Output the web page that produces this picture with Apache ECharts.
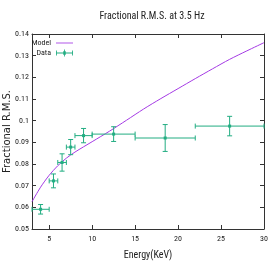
<!DOCTYPE html>
<html><head><meta charset="utf-8">
<script src="https://cdn.jsdelivr.net/npm/echarts@6/dist/echarts.min.js"></script>
<style>html,body{margin:0;padding:0;background:#fff}#c{width:274px;height:262px}</style>
</head><body><div id="c"></div>
<script>
// Model curve (energy keV, fractional rms)
var modelE   = [3, 4, 5, 6, 7, 8, 10, 12, 14, 16, 18, 20, 22, 24, 26, 28, 30];
var modelRms = [0.0626, 0.0693, 0.0748, 0.0792, 0.0827, 0.0855, 0.0903, 0.0951, 0.1002, 0.1054, 0.1102, 0.1148, 0.1194, 0.1239, 0.1283, 0.1322, 0.136];
// Data points with error bars
var energy = [4, 5.5, 6.5, 7.5, 9, 12.5, 18.5, 26];
var eLo    = [3, 5, 6, 7, 8, 10, 15, 22];
var eHi    = [5, 6, 7, 8, 10, 15, 22, 30];
var rms    = [0.0591, 0.0722, 0.0807, 0.0878, 0.0931, 0.0938, 0.0920, 0.0975];
var rmsErr = [0.0022, 0.0032, 0.0040, 0.0035, 0.0033, 0.0034, 0.0062, 0.0045];
var xTicks = [5, 10, 15, 20, 25, 30];
var yTicks = [0.05, 0.06, 0.07, 0.08, 0.09, 0.1, 0.11, 0.12, 0.13, 0.14];

var FONT = '"Roboto Condensed","DejaVu Sans Condensed",sans-serif';
var PURPLE = '#a43ae4';
var GREEN = '#22ad82';

var modelData = modelE.map(function(e,i){return [e, modelRms[i]];});
var pts = energy.map(function(e,i){return [e, rms[i], eLo[i], eHi[i], rms[i]-rmsErr[i], rms[i]+rmsErr[i]];});

function renderErr(params, api){
  var c = api.coord([api.value(0), api.value(1)]);
  var l = api.coord([api.value(2), api.value(1)]);
  var r = api.coord([api.value(3), api.value(1)]);
  var b = api.coord([api.value(0), api.value(4)]);
  var t = api.coord([api.value(0), api.value(5)]);
  var st = {stroke: GREEN, lineWidth: 1, fill: null};
  var cap = 2.5;
  return {type:'group', children:[
    {type:'line', shape:{x1:l[0], y1:l[1], x2:r[0], y2:r[1]}, style:st},
    {type:'line', shape:{x1:l[0], y1:l[1]-cap, x2:l[0], y2:l[1]+cap}, style:st},
    {type:'line', shape:{x1:r[0], y1:r[1]-cap, x2:r[0], y2:r[1]+cap}, style:st},
    {type:'line', shape:{x1:b[0], y1:b[1], x2:t[0], y2:t[1]}, style:st},
    {type:'line', shape:{x1:b[0]-cap, y1:b[1], x2:b[0]+cap, y2:b[1]}, style:st},
    {type:'line', shape:{x1:t[0]-cap, y1:t[1], x2:t[0]+cap, y2:t[1]}, style:st},
    {type:'rect', shape:{x:c[0]-1.5, y:c[1]-1.5, width:3, height:3}, style:{fill:GREEN}}
  ]};
}

var axisCommon = {
  axisLine:{show:true, lineStyle:{color:'#333', width:1}},
  splitLine:{show:false}
};

var chart = echarts.init(document.getElementById('c'), null, {renderer:'canvas'});
chart.setOption({
  animation:false,
  title:{text:'Fractional R.M.S. at 3.5 Hz', left:147, textAlign:'center', top:6,
    textStyle:{fontFamily:FONT, fontSize:10, fontWeight:'normal', color:'#222'}},
  grid:{left:32, right:10, top:34, bottom:33, containLabel:false, outerBoundsMode:'none'},
  legend:[
    {data:[{name:'Model', icon:'path://M0,4.5h20v1h-20z', itemStyle:{color:PURPLE}}],
     orient:'vertical', align:'right', right:201, top:39, itemWidth:17, itemHeight:8,
     padding:0, textStyle:{fontFamily:FONT, fontSize:8, color:'#222'}},
    {data:[{name:'Data', icon:'path://M0,4.5h20v1h-20zM0,2h1v6h-1zM19,2h1v6h-1zM8.5,3h3v4h-3zM9.5,1h1v8h-1z', itemStyle:{color:GREEN}}],
     orient:'vertical', align:'right', right:201, top:49, itemWidth:17, itemHeight:8,
     padding:0, textStyle:{fontFamily:FONT, fontSize:8, color:'#222'}}
  ],
  xAxis:[
    Object.assign({type:'value', min:3, max:30, position:'bottom',
      name:'Energy(KeV)', nameLocation:'middle', nameGap:21, nameMoveOverlap:false,
      nameTextStyle:{fontFamily:FONT, fontSize:10, color:'#222'},
      axisTick:{show:true, inside:true, length:4, customValues:xTicks, lineStyle:{color:'#333'}},
      axisLabel:{customValues:xTicks, fontFamily:FONT, fontSize:8, color:'#222', margin:6}}, axisCommon),
    Object.assign({type:'value', min:3, max:30, position:'top',
      axisTick:{show:true, inside:true, length:4, customValues:xTicks, lineStyle:{color:'#333'}},
      axisLabel:{show:false}}, axisCommon)
  ],
  yAxis:[
    Object.assign({type:'value', min:0.05, max:0.14, position:'left',
      name:'Fractional R.M.S.', nameLocation:'middle', nameGap:20, nameMoveOverlap:false,
      nameTextStyle:{fontFamily:'"DejaVu Sans",sans-serif', fontSize:10, color:'#222'},
      axisTick:{show:true, inside:true, length:4, customValues:yTicks, lineStyle:{color:'#333'}},
      axisLabel:{customValues:yTicks, fontFamily:FONT, fontSize:8, color:'#222', margin:3,
        formatter:function(v){return String(Math.round(v*100)/100);}}}, axisCommon),
    Object.assign({type:'value', min:0.05, max:0.14, position:'right',
      axisTick:{show:true, inside:true, length:4, customValues:yTicks, lineStyle:{color:'#333'}},
      axisLabel:{show:false}}, axisCommon)
  ],
  series:[
    {name:'Model', type:'line', data:modelData, smooth:0.3, showSymbol:false, symbol:'none',
     lineStyle:{color:PURPLE, width:1}, itemStyle:{color:PURPLE}, z:2},
    {name:'Data', type:'custom', data:pts, renderItem:renderErr, itemStyle:{color:GREEN},
     encode:{x:[0,2,3], y:[1,4,5]}, z:3}
  ]
});
</script></body></html>
